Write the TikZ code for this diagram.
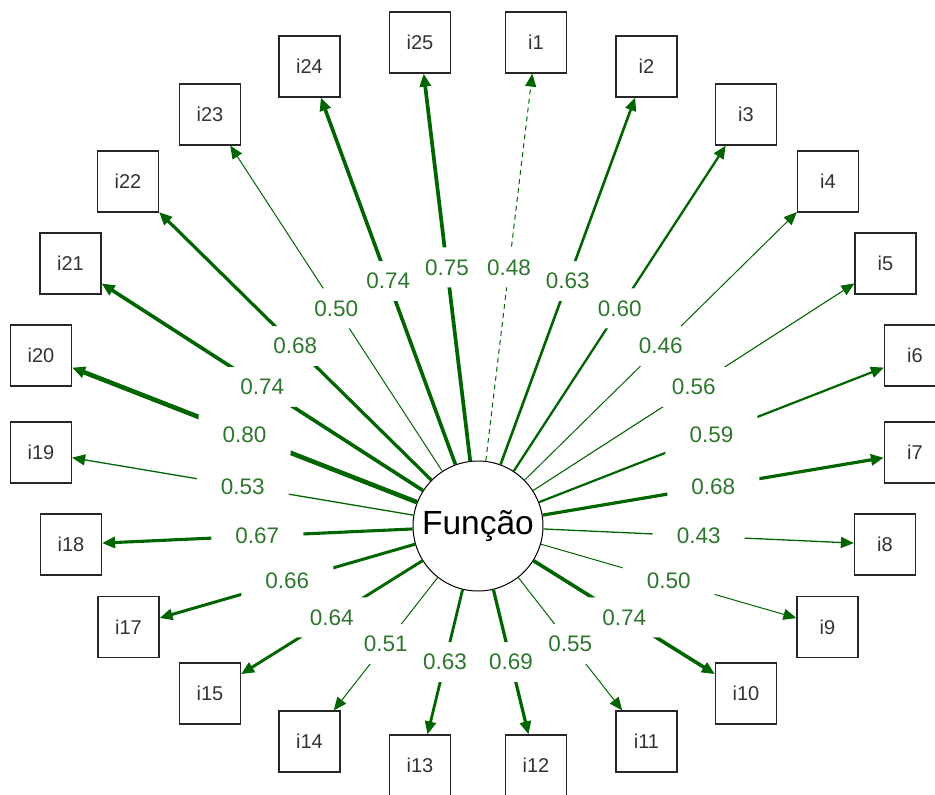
\documentclass[tikz,border=0pt]{standalone}
\usepackage{fontspec}
\setmainfont{Liberation Sans}
\usetikzlibrary{arrows.meta}
\definecolor{loadgreen}{RGB}{0,100,0}
\definecolor{labgreen}{RGB}{45,118,45}
\begin{document}
\begin{tikzpicture}[x=1pt,y=-1pt,
  item/.style={draw=black!85, line width=1.2pt, fill=white, minimum size=61pt,
    inner sep=0pt, font=\fontsize{20}{24}\selectfont, text=black!80},
  latent/.style={draw=black, line width=1pt, circle, fill=white, minimum size=130pt,
    inner sep=0pt, font=\fontsize{33.5}{40}\selectfont},
  load/.style={draw=loadgreen, -{Triangle[length=13pt,width=11pt]}},
  dashpat/.style={dash pattern=on 5pt off 4pt},
  lab/.style={text=labgreen, font=\fontsize{22.5}{27}\selectfont, inner sep=0pt}]
\useasboundingbox (0,0) rectangle (935,795);

% latent factor
\node[latent] (F) at (478,526) {Função};

% indicators: name / x / y / loading / line width / pattern
\foreach \n/\x/\y/\v/\w/\s in {
  i1/536/42.5/0.48/1.0/dashpat,
  i2/646.5/66.5/0.63/2.6/solid,
  i3/746/114.5/0.60/2.3/solid,
  i4/828/181.5/0.46/1.0/solid,
  i5/885.5/263.5/0.56/1.1/solid,
  i6/915/355.5/0.59/2.2/solid,
  i7/915/452.5/0.68/3.2/solid,
  i8/885/544.5/0.43/1.3/solid,
  i9/827.5/627/0.50/1.0/solid,
  i10/746/693.5/0.74/3.6/solid,
  i11/646.5/741.5/0.55/1.0/solid,
  i12/536/765.5/0.69/3.2/solid,
  i13/420/765.5/0.63/2.8/solid,
  i14/309.5/741.5/0.51/1.0/solid,
  i15/210/693.5/0.64/2.9/solid,
  i17/128.5/627/0.66/3.0/solid,
  i18/71/544.5/0.67/3.1/solid,
  i19/41/452.5/0.53/1.3/solid,
  i20/41/355.5/0.80/4.6/solid,
  i21/70.5/263.5/0.74/3.6/solid,
  i22/128/181.5/0.68/3.2/solid,
  i23/210/114.5/0.50/1.0/solid,
  i24/309.5/66.5/0.74/3.6/solid,
  i25/420/42.5/0.75/3.7/solid}{
  \node[item] (\n) at (\x,\y) {\n};
  % midpoint of the visible edge, where the loading is printed
  \path (F) -- coordinate[midway] (m-\n) (\n);
  % the edge is interrupted by a gap around its own label only
  \begin{scope}
    \clip (-60,-60) -- (1000,-60) -- (1000,860) -- (-60,860) -- cycle
          (m-\n) ++(-46,-20) -- ++(0,40) -- ++(92,0) -- ++(0,-40) -- cycle;
    \draw[load, line width=\w pt, \s] (F) -- (\n);
  \end{scope}
  \node[lab] at (m-\n) {\v};
}
\end{tikzpicture}
\end{document}
